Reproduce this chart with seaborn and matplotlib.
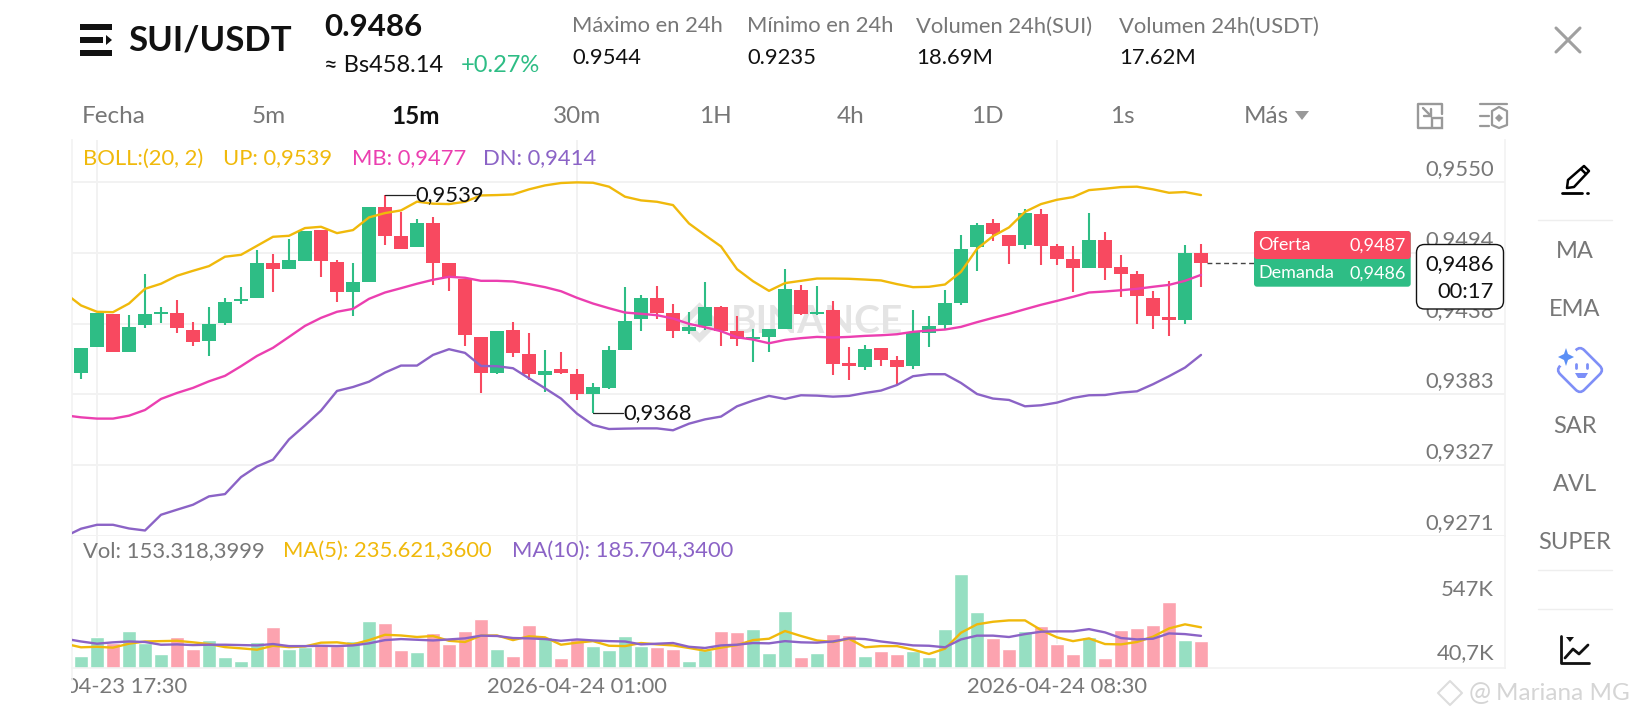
import numpy as np
import pandas as pd
import seaborn as sns
import matplotlib.pyplot as plt
from matplotlib.patches import Circle, FancyBboxPatch, Polygon, Rectangle
from matplotlib.lines import Line2D
from matplotlib.transforms import Affine2D, Bbox, TransformedBbox

# Candles, 15m
open_p = [.93996,.94198,.94456,.94159,.94369,.94461,.94467,.94335,.94248,.94390,.94559,.94580,.94859,.94814,.94872,.95122,.94869,.94630,
          .94711,.95300,.95072,.94982,.95172,.94859,.94737,.94274,.93996,.94335,.94146,.93977,.94025,.93983,.93825,.93875,.94177,.94419,
          .94587,.94466,.94327,.94361,.94509,.94324,.94259,.94277,.94338,.94648,.94461,.94487,.94075,.94038,.94193,.94093,.94046,.94309,
          .94369,.94548,.94982,.95171,.95079,.95003,.95242,.94990,.94890,.94822,.95040,.94827,.94769,.94587,.94435,.94409,.94940]
close_p = [.94193,.94467,.94159,.94356,.94456,.94472,.94348,.94238,.94377,.94556,.94572,.94859,.94814,.94880,.95111,.94872,.94630,.94706,
           .95300,.95074,.94972,.95172,.94861,.94751,.94290,.93996,.94324,.94148,.93985,.94011,.93996,.93825,.93883,.94175,.94406,.94587,
           .94469,.94327,.94353,.94509,.94327,.94259,.94274,.94338,.94658,.94459,.94477,.94067,.94048,.94182,.94098,.94038,.94317,.94364,
           .94545,.94969,.95161,.95092,.94992,.95250,.94992,.94893,.94822,.95040,.94822,.94772,.94601,.94440,.94409,.94940,.94861]
high_p = [.94193,.94467,.94456,.94446,.94769,.94509,.94567,.94398,.94509,.94580,.94667,.94961,.94930,.95051,.95111,.95122,.94880,.94859,
          .95300,.95395,.95264,.95203,.95219,.94859,.94737,.94274,.94324,.94398,.94306,.94175,.94156,.94025,.93914,.94203,.94669,.94608,
          .94679,.94537,.94477,.94708,.94519,.94440,.94338,.94338,.94811,.94690,.94677,.94559,.94196,.94217,.94193,.94125,.94487,.94438,
          .94648,.95079,.95174,.95203,.95079,.95282,.95282,.95011,.94990,.95250,.95100,.94919,.94798,.94637,.94719,.94998,.95008]
low_p = [.93949,.94198,.94159,.94159,.94348,.94388,.94309,.94206,.94127,.94369,.94535,.94580,.94630,.94814,.94872,.94751,.94551,.94440,
         .94711,.95003,.94966,.94982,.94690,.94640,.94209,.93835,.93988,.94117,.93940,.93846,.93988,.93783,.93680,.93867,.94177,.94327,
         .94419,.94267,.94301,.94330,.94206,.94206,.94077,.94159,.94338,.94448,.94453,.93977,.93935,.94017,.94048,.93909,.94025,.94198,
         .94340,.94530,.94800,.95032,.94853,.94971,.94840,.94840,.94630,.94822,.94729,.94590,.94380,.94338,.94288,.94380,.94672]

# Bollinger bands, they start one candle before the visible ones
boll_up = [.94622,.94525,.94475,.94472,.94540,.94656,.94696,.94759,.94798,.94835,.94909,.94924,.94995,.95066,.95074,.95135,.95145,.95095,
           .95119,.95219,.95253,.95274,.95343,.95327,.95324,.95342,.95392,.95395,.95400,.95440,.95471,.95490,.95495,.95492,.95461,.95382,
           .95353,.95342,.95316,.95171,.95079,.94990,.94811,.94716,.94640,.94701,.94719,.94737,.94737,.94735,.94729,.94722,.94693,.94669,
           .94672,.94690,.94790,.94971,.95071,.95140,.95263,.95324,.95358,.95379,.95434,.95445,.95458,.95461,.95440,.95413,.95419,.95395]
boll_mb = [.93659,.93643,.93633,.93633,.93656,.93701,.93788,.93835,.93875,.93927,.93970,.94046,.94127,.94191,.94277,.94364,.94427,.94475,
           .94498,.94577,.94627,.94661,.94696,.94727,.94751,.94743,.94719,.94719,.94714,.94693,.94669,.94637,.94585,.94540,.94503,.94469,
           .94459,.94448,.94422,.94380,.94353,.94322,.94274,.94256,.94227,.94253,.94267,.94277,.94272,.94277,.94285,.94290,.94298,.94317,
           .94327,.94335,.94356,.94393,.94427,.94459,.94495,.94530,.94561,.94593,.94627,.94635,.94645,.94656,.94672,.94687,.94719,.94766]
boll_dn = [.92704,.92765,.92796,.92796,.92767,.92751,.92875,.92915,.92954,.93020,.93038,.93172,.93256,.93309,.93469,.93580,.93696,.93851,
           .93882,.93924,.93996,.94051,.94051,.94135,.94180,.94151,.94048,.94046,.94030,.93951,.93872,.93791,.93672,.93583,.93551,.93554,
           .93556,.93556,.93541,.93593,.93627,.93649,.93730,.93775,.93812,.93788,.93817,.93814,.93806,.93812,.93835,.93854,.93898,.93967,
           .93983,.93983,.93914,.93827,.93791,.93780,.93730,.93738,.93759,.93796,.93817,.93819,.93838,.93848,.93904,.93967,.94035,.94135]

# Volume in thousands
volume = [68,179,142,214,142,82,179,107,159,60,39,148,235,109,122,132,126,153,272,258,103,91,202,138,214,284,109,68,251,179,56,173,126,105,
          185,128,120,107,39,103,212,210,225,85,328,62,85,196,190,70,95,82,97,60,223,546,323,175,109,216,243,140,82,177,56,220,231,249,381,161,153.3]
vol_ma5 = [140,119,122,117,140,153,155,157,148,138,120,113,105,128,120,124,146,148,136,161,192,188,179,185,157,150,187,188,161,183,177,134,146,
           155,128,126,144,136,130,115,99,117,132,161,169,214,185,159,150,169,119,126,126,105,80,111,204,253,268,276,276,220,177,155,171,138,136,150,181,229,253,235.6]
vol_ma10 = [169,153,140,148,153,150,134,136,132,134,134,132,130,138,126,126,128,126,130,142,161,167,163,159,165,171,187,185,173,171,167,157,165,
            159,155,153,136,140,144,122,115,130,134,144,142,155,148,146,153,171,167,153,142,130,128,119,165,187,187,179,196,210,212,212,225,206,173,165,169,200,196,185.7]

price_ticks = [.9550, .9494, .9438, .9383, .9327, .9271]
price_labels = ["0,9550", "0,9494", "0,9438", "0,9383", "0,9327", "0,9271"]
time_ticks = [1, 31, 61]
time_labels = ["2026-04-23 17:30", "2026-04-24 01:00", "2026-04-24 08:30"]
last_price = 0.9486

GREEN = "#2EBD85"
RED = "#F84960"
GOLD = "#F0B90B"
PINK = "#EB3FB0"
PURPLE = "#8B63C6"
GRAY = "#777777"
GRID = "#F2F2F2"
ICON = "#999999"
BASE = 15.8

sns.set_theme(style="white")
plt.rcParams["font.family"] = ["Lato", "DejaVu Sans"]

W, H = 1640, 720
fig = plt.figure(figsize=(W / 100, H / 100), dpi=100, facecolor="white")
PX = Affine2D().scale(1 / W, -1 / H).translate(0, 1) + fig.transFigure


def box(x0, y0, x1, y1):
    return [x0 / W, 1 - y1 / H, (x1 - x0) / W, (y1 - y0) / H]


def label(x, y, s, size=BASE, color=GRAY, ha="left", weight="normal", zorder=10):
    return fig.text(x / W, 1 - (y + 1.5) / H, s, fontsize=size, color=color, ha=ha, va="center", weight=weight, zorder=zorder)


def shape(pts, fc="none", ec="none", lw=0, zorder=6, closed=True):
    fig.add_artist(Polygon(pts, closed=closed, facecolor=fc, edgecolor=ec, linewidth=lw, transform=PX,
                           zorder=zorder, joinstyle="round", capstyle="round"))


def stroke(xs, ys, color, lw=1.5, zorder=6, ls="-"):
    fig.add_artist(Line2D(xs, ys, color=color, lw=lw, transform=PX, zorder=zorder, ls=ls, solid_capstyle="round"))


ax = fig.add_axes(box(72, 140, 1505, 535.7))
ax_vol = fig.add_axes(box(72, 535.7, 1505, 667.7))

idx = np.arange(len(close_p))
band_idx = np.arange(-1, len(close_p))
o, c, hi, lo = map(np.array, (open_p, close_p, high_p, low_p))
up = c >= o
colors = np.where(up, GREEN, RED)

# watermark goes under the candles
ax.text(40.6, 0.94395, "BINANCE", fontsize=28, weight="bold", color="#E4E4E4", va="center", zorder=1)
ax.scatter([38.6], [0.94395], marker="D", s=420, color="#E4E4E4", zorder=1, linewidths=0)
ax.scatter([38.6], [0.94395], marker="D", s=120, color="white", zorder=1, linewidths=0)
ax.scatter([38.6], [0.94395], marker="D", s=30, color="#E4E4E4", zorder=1, linewidths=0)

ax.vlines(idx, lo, hi, colors=colors, lw=1.5, zorder=3)
ax.bar(idx, np.abs(c - o), bottom=np.minimum(o, c), width=0.875, color=colors, edgecolor="none", zorder=3)

for values, col in [(boll_up, GOLD), (boll_mb, PINK), (boll_dn, PURPLE)]:
    sns.lineplot(x=band_idx, y=values, color=col, lw=1.7, ax=ax, zorder=4, estimator=None, legend=False)

# max and min markers
i_max, i_min = int(np.argmax(hi)), int(np.argmin(lo))
ax.plot([i_max, i_max + 1.9], [hi[i_max]] * 2, color="#222222", lw=0.9, zorder=5)
ax.text(i_max + 1.9, hi[i_max], "0,9539", fontsize=BASE, color="#111111", va="center", zorder=5)
ax.plot([i_min, i_min + 1.9], [lo[i_min]] * 2, color="#222222", lw=0.9, zorder=5)
ax.text(i_min + 1.9, lo[i_min], "0,9368", fontsize=BASE, color="#111111", va="center", zorder=5)

ax.plot([70.4, 82.8], [last_price, last_price], color="#444444", lw=1, ls=(0, (3.5, 2.5)), zorder=5)

ax.set_xlim(-0.5625, 89)
ax.set_ylim(0.9271, 0.95829)
ax.set_xticks(time_ticks)
ax.set_xticklabels([])
ax.set_yticks(price_ticks)
ax.yaxis.tick_right()
ax.set_yticklabels(price_labels, fontsize=BASE, color=GRAY, ha="right", va="bottom")
ax.tick_params(axis="y", length=0, pad=-8)
ax.tick_params(axis="x", length=0)
for t in ax.get_yticklabels():
    t.set_transform(t.get_transform() + Affine2D().translate(0, 2.5))
ax.grid(True, color=GRID, lw=1.4)
ax.set_axisbelow(True)
ax.set_xlabel("")
ax.set_ylabel("")

vol_df = pd.DataFrame({"idx": idx, "vol": volume, "side": np.where(up, "up", "down")})
sns.barplot(data=vol_df, x="idx", y="vol", hue="side", palette={"up": "#96DFC2", "down": "#FCA3AF"}, native_scale=True,
            dodge=False, width=0.875, saturation=1, legend=False, errorbar=None, ax=ax_vol, zorder=2)
sns.lineplot(x=band_idx, y=vol_ma5, color=GOLD, lw=1.7, ax=ax_vol, zorder=4, estimator=None, legend=False)
sns.lineplot(x=band_idx, y=vol_ma10, color=PURPLE, lw=1.7, ax=ax_vol, zorder=4, estimator=None, legend=False)
ax_vol.set_xlim(-0.5625, 89)
ax_vol.set_ylim(0, 770)
ax_vol.set_yticks([])
ax_vol.set_xticks(time_ticks)
ax_vol.set_xticklabels(time_labels, fontsize=BASE, color=GRAY)
ax_vol.tick_params(axis="x", length=0, pad=7)
ax_vol.grid(True, axis="x", color=GRID, lw=1.4)
ax_vol.set_axisbelow(True)
ax_vol.set_xlabel("")
ax_vol.set_ylabel("")
clip = TransformedBbox(Bbox([[71, 0], [W, H]]), Affine2D())
for t in ax_vol.get_xticklabels():
    t.set_clip_box(clip)
    t.set_clip_on(True)

for a in (ax, ax_vol):
    a.patch.set_alpha(0)
    for side in a.spines:
        a.spines[side].set_color(GRID)
        a.spines[side].set_linewidth(1.2)
    a.spines["top"].set_visible(False)
ax.spines["bottom"].set_visible(False)
stroke([72, 72], [668, 680], GRID, 1.2)

# indicator legends
label(83, 157, "BOLL:(20, 2)", color=GOLD)
label(223, 157, "UP: 0,9539", color=GOLD)
label(352, 157, "MB: 0,9477", color=PINK)
label(483, 157, "DN: 0,9414", color=PURPLE)
label(83, 549.5, "Vol: 153.318,3999")
label(283, 549.5, "MA(5): 235.621,3600", color=GOLD)
label(512, 549.5, "MA(10): 185.704,3400", color=PURPLE)
label(1494, 588, "547K", ha="right")
label(1494, 652, "40,7K", ha="right")

# header
shape([(80, 24), (112, 24), (112, 30), (80, 30)], fc="#111111")
shape([(80, 37), (103, 37), (103, 43), (80, 43)], fc="#111111")
shape([(106, 35), (112, 40), (106, 45)], fc="#111111")
shape([(80, 50), (112, 50), (112, 56), (80, 56)], fc="#111111")
label(128, 39, "SUI/USDT", size=25, color="#111111", weight="bold")
label(324, 25, "0.9486", size=22.5, color="#111111", weight="bold")
label(324, 64.5, "≈ Bs458.14", size=17, color="#111111")
label(461, 64.5, "+0.27%", size=17, color=GREEN)
for x, head, val in [(572, "Máximo en 24h", "0.9544"), (747, "Mínimo en 24h", "0.9235"),
                     (916, "Volumen 24h(SUI)", "18.69M"), (1119, "Volumen 24h(USDT)", "17.62M")]:
    label(x, 25, head)
    label(x, 56, val, color="#111111")

# interval tabs
for x, s in [(113.5, "Fecha"), (269, "5m"), (577, "30m"), (715.5, "1H"), (851, "4h"), (987.5, "1D"), (1122, "1s")]:
    label(x, 115, s, size=17.5, ha="center")
label(416, 115, "15m", size=17.5, color="#111111", ha="center", weight="bold")
label(1244, 115, "Más", size=17.5)
shape([(1295, 111), (1309, 111), (1302, 120)], fc=ICON)

# toolbar icons
stroke([1431, 1418.5, 1418.5, 1442.5, 1442.5], [127.5, 127.5, 103.5, 103.5, 114], ICON, 1.7)
fig.add_artist(Rectangle((1432, 118), 10, 9.5, fc="white", ec=ICON, lw=1.7, transform=PX, zorder=7))
stroke([1423, 1431], [108, 116], ICON, 1.7)
stroke([1431, 1431, 1424], [109, 116, 116], ICON, 1.7)
stroke([1480, 1507], [104, 104], ICON, 1.6)
stroke([1480, 1489], [116, 116], ICON, 1.6)
stroke([1480, 1489], [126, 126], ICON, 1.6)
shape([(1499, 107), (1507, 111), (1507, 125), (1499, 128), (1492, 125), (1492, 111)], ec=ICON, lw=1.6)
shape([(1499, 114), (1503, 118), (1499, 122), (1495, 118)], fc=ICON)
stroke([1556, 1580], [28, 52], "#A0A0A0", 2.2)
stroke([1556, 1580], [52, 28], "#A0A0A0", 2.2)

# bid / ask box and last price box
fig.add_artist(FancyBboxPatch((1254, 231), 156.7, 55.7, boxstyle="round,pad=0,rounding_size=3", fc=GREEN, ec="none",
                              transform=PX, zorder=6))
fig.add_artist(FancyBboxPatch((1254, 231), 156.7, 28, boxstyle="round,pad=0,rounding_size=3", fc=RED, ec="none",
                              transform=PX, zorder=6))
label(1258, 244, "Oferta", size=13, color="white")
label(1406, 244, "0,9487", size=13, color="white", ha="right")
label(1258, 272, "Demanda", size=13, color="white")
label(1406, 272, "0,9486", size=13, color="white", ha="right")
fig.add_artist(FancyBboxPatch((1416.5, 244.5), 87, 64.5, boxstyle="round,pad=0,rounding_size=8", fc="white", ec="#111111", lw=1,
                              transform=PX, zorder=8))
label(1494, 262.5, "0,9486", color="#111111", ha="right")
label(1494, 290.5, "00:17", color="#111111", ha="right")

# side bar
shape([(1567, 188), (1568, 180), (1584, 166), (1589, 171), (1574, 187)], ec="#000000", lw=1.8)
stroke([1581, 1586], [169, 174], "#000000", 1.8)
stroke([1562, 1582], [192.5, 192.5], "#000000", 2)
stroke([1587, 1588.5], [192.5, 192.5], "#000000", 2)
stroke([1538, 1612], [220, 220], "#EEEEEE", 1)
for y, s in [(250, "MA"), (308, "EMA"), (425, "SAR"), (483, "AVL"), (541, "SUPER")]:
    label(1575, y, s, size=17, ha="center")
stroke([1538, 1612], [570, 570], "#EEEEEE", 1)
stroke([1538, 1612], [609, 609], "#EEEEEE", 1)

# smiley badge
face = Affine2D().rotate_deg_around(1580, 370, 45) + PX
fig.add_artist(FancyBboxPatch((1563, 353), 34, 34, boxstyle="round,pad=0,rounding_size=6", fc="none", ec="#7F8FF7", lw=1.9,
                              transform=face, zorder=6))
fig.add_artist(Circle((1567, 357), 11, fc="white", ec="none", transform=PX, zorder=6))
shape([(1566, 348), (1568, 354), (1574, 357), (1568, 360), (1566, 366), (1564, 360), (1558, 357), (1564, 354)], fc="#5B8FF5", zorder=7)
stroke([1576, 1576], [364, 368], "#7C8FF8", 2)
stroke([1587, 1587], [364, 368], "#7C8FF8", 2)
shape([(1575, 373), (1588, 373), (1585, 378), (1578, 378)], fc="#7C8FF8")

stroke([1561, 1561, 1589], [636, 663, 663], "#111111", 2)
stroke([1565, 1573, 1579, 1588], [658, 649, 654, 645], "#111111", 2)
shape([(1566, 637), (1574, 637), (1570, 642)], fc="#111111")

# screenshot watermark
shape([(1450, 681), (1462, 693), (1450, 705), (1438, 693)], ec="#DDDDDD", lw=1.5)
label(1480, 692, "@", size=19, color="#D5D5D5", ha="center")
label(1496, 692, "Mariana MG", size=17.5, color="#D5D5D5")

fig.savefig("out.png", dpi=100, facecolor="white")
